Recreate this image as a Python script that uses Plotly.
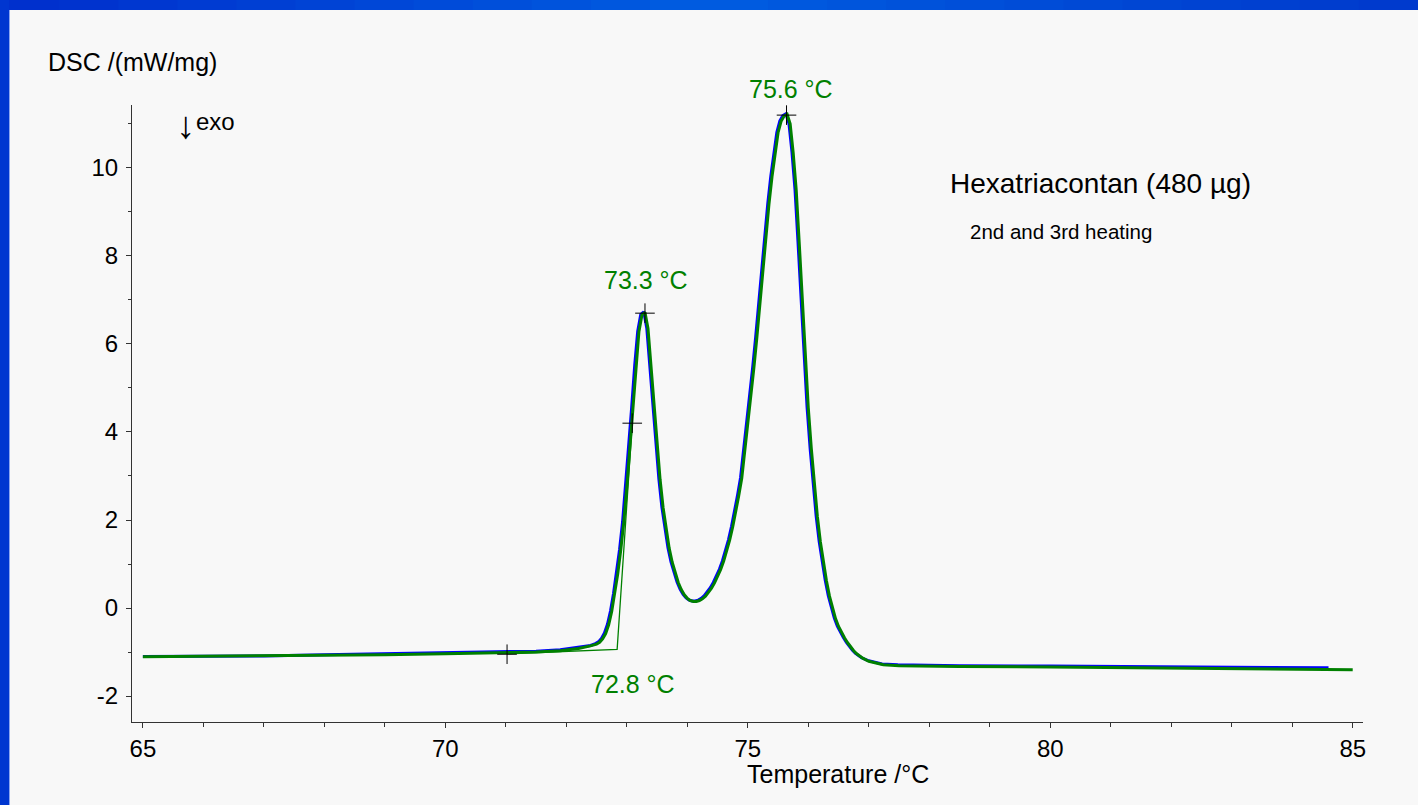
import plotly.graph_objects as go

# ---- data: 3rd heating (green) ----
temp_3rd = [65.0, 66.0, 67.0, 68.0, 69.0, 70.0, 71.0, 71.5, 71.9, 72.2, 72.4,
            72.50, 72.55, 72.60, 72.65, 72.70, 72.75, 72.80, 72.85, 72.90, 72.95,
            73.00, 73.05, 73.10, 73.15, 73.20, 73.25, 73.30, 73.35, 73.40, 73.45,
            73.50, 73.55, 73.60, 73.65, 73.70, 73.75, 73.80, 73.85, 73.90, 73.95,
            74.00, 74.05, 74.10, 74.15, 74.20, 74.25, 74.30, 74.35, 74.40, 74.45,
            74.50, 74.55, 74.60, 74.65, 74.70, 74.75, 74.80, 74.85, 74.90, 74.95,
            75.00, 75.05, 75.10, 75.15, 75.20, 75.25, 75.30, 75.35, 75.40, 75.45,
            75.50, 75.55, 75.60, 75.65, 75.70, 75.75, 75.80, 75.85, 75.90, 75.95,
            76.00, 76.05, 76.10, 76.15, 76.20, 76.25, 76.30, 76.35, 76.40, 76.45,
            76.50, 76.55, 76.60, 76.65, 76.70, 76.75, 76.80, 76.85, 76.90, 77.00,
            77.24, 77.50, 77.79, 78.5, 80.0, 81.0, 82.0, 83.0, 84.0, 85.0]
dsc_3rd = [-1.11, -1.10, -1.09, -1.08, -1.06, -1.04, -1.02, -1.00, -0.97, -0.92, -0.86,
           -0.82, -0.78, -0.70, -0.58, -0.38, -0.08, 0.32, 0.78, 1.32, 1.95,
           2.75, 3.65, 4.55, 5.50, 6.28, 6.66, 6.72, 6.35, 5.50, 4.55,
           3.68, 2.92, 2.28, 1.76, 1.36, 1.04, 0.78, 0.58, 0.42, 0.30,
           0.22, 0.17, 0.15, 0.15, 0.17, 0.21, 0.27, 0.35, 0.45, 0.57,
           0.71, 0.87, 1.06, 1.28, 1.54, 1.84, 2.18, 2.55, 2.95, 3.55,
           4.20, 4.85, 5.45, 6.15, 6.95, 7.75, 8.50, 9.18, 9.80, 10.35,
           10.80, 11.06, 11.18, 11.22, 11.00, 10.35, 9.50, 8.30, 7.00, 5.70,
           4.55, 3.62, 2.80, 2.08, 1.50, 1.02, 0.62, 0.27, -0.02, -0.24,
           -0.42, -0.56, -0.68, -0.79, -0.89, -0.97, -1.04, -1.10, -1.14, -1.21,
           -1.29, -1.31, -1.32, -1.33, -1.34, -1.35, -1.37, -1.38, -1.39, -1.40]

# ---- data: 2nd heating (blue) ----
temp_2nd = [65.0, 66.0, 67.0, 68.0, 69.0, 70.0, 71.0, 71.5, 71.9, 72.2, 72.4,
            72.48, 72.53, 72.58, 72.63, 72.68, 72.73, 72.78, 72.83, 72.88, 72.93,
            72.98, 73.03, 73.08, 73.13, 73.18, 73.23, 73.28, 73.33, 73.38, 73.43,
            73.48, 73.53, 73.58, 73.63, 73.68, 73.73, 73.78, 73.83, 73.88, 73.93,
            73.98, 74.03, 74.08, 74.13, 74.18, 74.23, 74.28, 74.33, 74.38, 74.43,
            74.48, 74.53, 74.58, 74.63, 74.68, 74.73, 74.78, 74.83, 74.88, 74.93,
            74.98, 75.03, 75.08, 75.13, 75.18, 75.23, 75.28, 75.33, 75.38, 75.43,
            75.48, 75.53, 75.58, 75.63, 75.68, 75.73, 75.78, 75.83, 75.88, 75.93,
            75.98, 76.03, 76.08, 76.13, 76.18, 76.23, 76.28, 76.33, 76.38, 76.43,
            76.48, 76.53, 76.58, 76.63, 76.68, 76.73, 76.78, 76.83, 76.88, 76.98,
            77.22, 77.48, 77.77, 78.5, 80.0, 81.0, 82.0, 83.0, 84.0, 84.6]
dsc_2nd = [-1.10, -1.10, -1.09, -1.06, -1.04, -1.02, -1.00, -0.98, -0.95, -0.90, -0.85,
           -0.81, -0.77, -0.69, -0.57, -0.37, -0.07, 0.33, 0.79, 1.33, 1.96,
           2.76, 3.66, 4.56, 5.51, 6.29, 6.67, 6.73, 6.36, 5.51, 4.56,
           3.69, 2.93, 2.29, 1.77, 1.37, 1.05, 0.79, 0.59, 0.43, 0.31,
           0.23, 0.18, 0.16, 0.16, 0.18, 0.22, 0.28, 0.36, 0.46, 0.58,
           0.72, 0.88, 1.07, 1.29, 1.55, 1.85, 2.19, 2.56, 2.96, 3.56,
           4.21, 4.86, 5.46, 6.16, 6.96, 7.76, 8.51, 9.19, 9.81, 10.36,
           10.81, 11.07, 11.19, 11.23, 11.01, 10.36, 9.51, 8.31, 7.01, 5.71,
           4.56, 3.63, 2.81, 2.09, 1.51, 1.03, 0.63, 0.28, -0.01, -0.23,
           -0.41, -0.55, -0.67, -0.78, -0.88, -0.96, -1.03, -1.09, -1.13, -1.19,
           -1.27, -1.29, -1.30, -1.31, -1.32, -1.33, -1.34, -1.35, -1.36, -1.36]

# onset construction (baseline + inflection tangent)
onset_temp = [71.02, 72.84, 73.09]
onset_dsc = [-1.04, -0.94, 4.20]

# evaluation markers
mark_temp = [71.02, 73.09, 73.30, 75.64]
mark_dsc = [-1.05, 4.20, 6.70, 11.20]

# green annotations (value, temperature, DSC position)
label_text = ["75.6 °C", "73.3 °C", "72.8 °C"]
label_temp = [75.71, 73.32, 73.11]
label_dsc = [11.80, 7.45, -1.73]

x_ticks = [65, 70, 75, 80, 85]
y_ticks = [-2, 0, 2, 4, 6, 8, 10]
y_ticktext = ["-2", "0", "2", "4", "6", "8", "10"]

X_RANGE = [64.82, 85.17]
Y_RANGE = [-2.59, 11.43]

W, H = 1418, 805
ML, MR, MT, MB = 132, 55, 105, 83
PW, PH = W - ML - MR, H - MT - MB

def px(x):
    return (x - ML) / PW

def py(y):
    return (H - MB - y) / PH

def dx(t):
    return (t - X_RANGE[0]) / (X_RANGE[1] - X_RANGE[0])

def dy(v):
    return (v - Y_RANGE[0]) / (Y_RANGE[1] - Y_RANGE[0])

GREEN = "#008000"
FONT = "Liberation Sans, Arial, sans-serif"

fig = go.Figure()
fig.add_trace(go.Scatter(x=temp_2nd, y=dsc_2nd, mode="lines", name="2nd heating",
                         line=dict(color="#0000ff", width=3)))
fig.add_trace(go.Scatter(x=temp_3rd, y=dsc_3rd, mode="lines", name="3rd heating",
                         line=dict(color=GREEN, width=3)))
fig.add_trace(go.Scatter(x=onset_temp, y=onset_dsc, mode="lines", name="onset",
                         line=dict(color=GREEN, width=1.3)))
fig.add_trace(go.Scatter(x=mark_temp, y=mark_dsc, mode="markers", name="marks",
                         marker=dict(symbol="cross-thin", size=14,
                                     line=dict(color="black", width=1))))

annotations = []
for t, x, y in zip(label_text, label_temp, label_dsc):
    annotations.append(dict(x=dx(x), y=dy(y), xref="paper", yref="paper", text=t,
                            showarrow=False, font=dict(family=FONT, size=25, color=GREEN),
                            xanchor="center", yanchor="middle"))

texts = [
    ("DSC /(mW/mg)", 46, 62, 25, "left", FONT),
    ("exo", 194, 122, 24, "left", FONT),
    ("↓", 185, 125, 38, "center", FONT),
    ("Hexatriacontan (480 µg)", 948, 183, 28, "left", FONT),
    ("2nd and 3rd heating", 968, 231, 20.5, "left", FONT),
    ("Temperature /°C", 838, 774, 25, "center", FONT),
]
for t, x, y, s, anc, fam in texts:
    annotations.append(dict(x=px(x), y=py(y), xref="paper", yref="paper", text=t,
                            showarrow=False, font=dict(family=fam, size=s, color="black"),
                            xanchor=anc, yanchor="middle"))

# blue frame (top and left bands)
shapes = []
n = 24
for i in range(n):
    f = i / (n - 1)
    g = int(48 + 40 * (1 - abs(2 * f - 1)) + 10 * f)
    b = int(205 + 20 * (1 - abs(2 * f - 1)))
    shapes.append(dict(type="rect", xref="paper", yref="paper",
                       x0=px(i * W / n), x1=px((i + 1) * W / n + 1),
                       y0=py(10), y1=py(0), line=dict(width=0),
                       fillcolor=f"rgb(0,{g},{b})", layer="above"))
shapes.append(dict(type="rect", xref="paper", yref="paper", x0=px(0), x1=px(9),
                   y0=py(H), y1=py(0), line=dict(width=0),
                   fillcolor="rgb(0,54,208)", layer="above"))
shapes.append(dict(type="rect", xref="paper", yref="paper", x0=px(9), x1=px(10),
                   y0=py(H), y1=py(10), line=dict(width=0),
                   fillcolor="rgb(140,165,240)", layer="above"))

axis_common = dict(showline=True, linecolor="#333333", linewidth=1, ticks="outside",
                   tickcolor="#333333", ticklen=5, tickwidth=1, showgrid=False,
                   zeroline=False, tickfont=dict(family=FONT, size=24, color="black"))

fig.update_layout(
    width=W, height=H,
    margin=dict(l=ML, r=MR, t=MT, b=MB),
    paper_bgcolor="#f8f8f8", plot_bgcolor="#f8f8f8",
    showlegend=False,
    xaxis=dict(range=X_RANGE, tickvals=x_ticks,
               minor=dict(dtick=1, ticks="outside", ticklen=4, tickcolor="#333333"),
               **axis_common),
    yaxis=dict(range=Y_RANGE, tickvals=y_ticks, ticktext=y_ticktext, ticklabelstandoff=3,
               minor=dict(dtick=1, ticks="outside", ticklen=3, tickcolor="#333333"),
               **axis_common),
    annotations=annotations,
    shapes=shapes,
)

fig.write_html("out.html")
